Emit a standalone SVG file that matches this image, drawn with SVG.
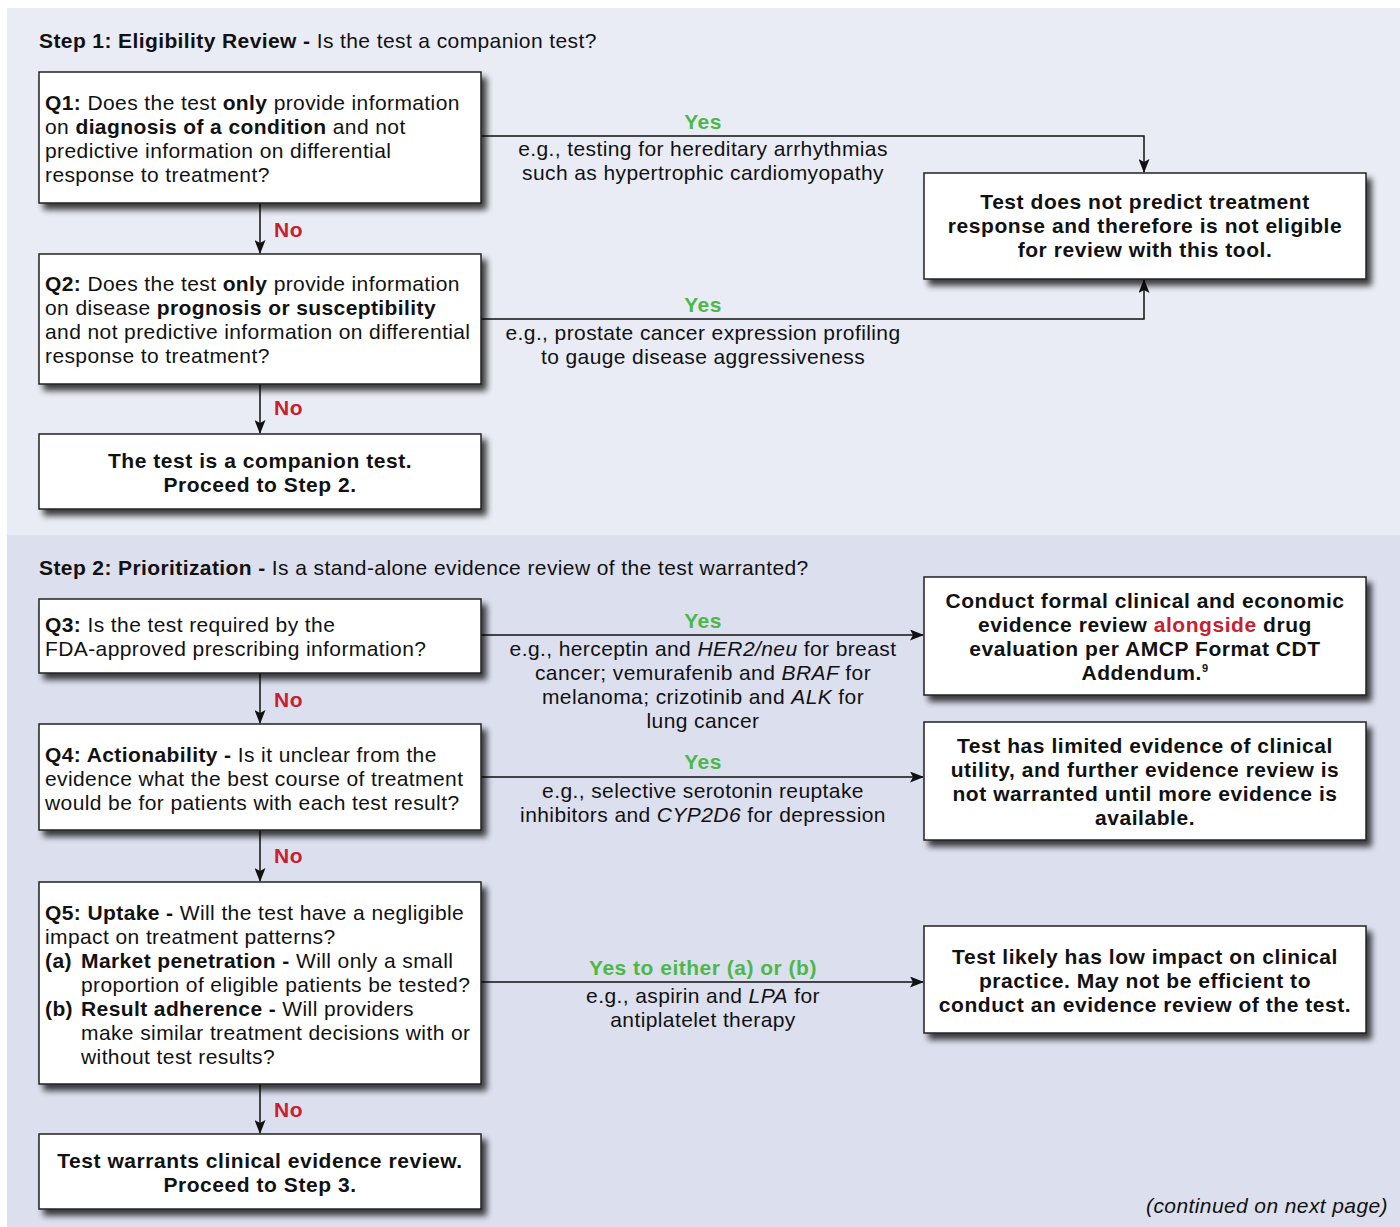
<svg xmlns="http://www.w3.org/2000/svg" width="1400" height="1227" viewBox="0 0 1400 1227">
<defs>
<filter id="sh" x="-5%" y="-10%" width="115%" height="130%">
<feGaussianBlur in="SourceAlpha" stdDeviation="3"/>
<feOffset dx="5" dy="6" result="b"/>
<feComponentTransfer><feFuncA type="linear" slope="0.75"/></feComponentTransfer>
<feMerge><feMergeNode/><feMergeNode in="SourceGraphic"/></feMerge>
</filter>
<marker id="ah" markerWidth="14" markerHeight="11" refX="13" refY="5.5" orient="auto" markerUnits="userSpaceOnUse">
<path d="M0,0 L14,5.5 L0,11 L3,5.5 Z" fill="#111"/>
</marker>
</defs>
<style>
text{font-family:"Liberation Sans",Arial,Helvetica,sans-serif;font-size:21px;letter-spacing:0.4px;fill:#111}
.b{font-weight:bold}
text.b{letter-spacing:0.55px}
.c{text-anchor:middle}
.i{font-style:italic}
.yes{font-weight:bold;fill:#4cb848;text-anchor:middle;letter-spacing:0.5px}
.no{font-weight:bold;fill:#c8202f;letter-spacing:0.5px}
.red{fill:#c8202f}
.box{fill:#fff;stroke:#222;stroke-width:1.5;filter:url(#sh)}
.ar{fill:none;stroke:#111;stroke-width:1.5;marker-end:url(#ah)}
</style>
<rect x="0" y="0" width="1400" height="1227" fill="#fff"/>
<rect x="7" y="8" width="1393" height="527" fill="#e9ecf4"/>
<rect x="7" y="535" width="1393" height="692" fill="#dcdfee"/>

<text x="39" y="48"><tspan class="b">Step 1: Eligibility Review - </tspan>Is the test a companion test?</text>
<text x="39" y="575"><tspan class="b">Step 2: Prioritization - </tspan>Is a stand-alone evidence review of the test warranted?</text>

<g id="connectors">
<path class="ar" d="M481,136 H1144 V172"/>
<path class="ar" d="M481,319 H1144 V280"/>
<path class="ar" d="M260,203 V253"/>
<path class="ar" d="M260,384 V433"/>
<path class="ar" d="M481,635 H923"/>
<path class="ar" d="M481,777 H923"/>
<path class="ar" d="M481,982 H923"/>
<path class="ar" d="M260,673 V723"/>
<path class="ar" d="M260,830 V881"/>
<path class="ar" d="M260,1084 V1133"/>
<text class="yes" x="703" y="129">Yes</text>
<text class="c" x="703" y="156">e.g., testing for hereditary arrhythmias</text>
<text class="c" x="703" y="180">such as hypertrophic cardiomyopathy</text>
<text class="yes" x="703" y="312">Yes</text>
<text class="c" x="703" y="340">e.g., prostate cancer expression profiling</text>
<text class="c" x="703" y="364">to gauge disease aggressiveness</text>
<text class="yes" x="703" y="628">Yes</text>
<text class="c" x="703" y="656">e.g., herceptin and <tspan class="i">HER2/neu</tspan> for breast</text>
<text class="c" x="703" y="680">cancer; vemurafenib and <tspan class="i">BRAF</tspan> for</text>
<text class="c" x="703" y="704">melanoma; crizotinib and <tspan class="i">ALK</tspan> for</text>
<text class="c" x="703" y="728">lung cancer</text>
<text class="yes" x="703" y="769">Yes</text>
<text class="c" x="703" y="798">e.g., selective serotonin reuptake</text>
<text class="c" x="703" y="822">inhibitors and <tspan class="i">CYP2D6</tspan> for depression</text>
<text class="yes" x="703" y="975">Yes to either (a) or (b)</text>
<text class="c" x="703" y="1003">e.g., aspirin and <tspan class="i">LPA</tspan> for</text>
<text class="c" x="703" y="1027">antiplatelet therapy</text>
<text class="no" x="274" y="237">No</text>
<text class="no" x="274" y="415">No</text>
<text class="no" x="274" y="707">No</text>
<text class="no" x="274" y="863">No</text>
<text class="no" x="274" y="1117">No</text>
</g>

<g id="q1">
<rect class="box" x="39" y="72" width="442" height="131"/>
<text x="45" y="110"><tspan class="b">Q1:</tspan> Does the test <tspan class="b">only</tspan> provide information</text>
<text x="45" y="134">on <tspan class="b">diagnosis of a condition</tspan> and not</text>
<text x="45" y="158">predictive information on differential</text>
<text x="45" y="182">response to treatment?</text>
</g>

<g id="q2">
<rect class="box" x="39" y="254" width="442" height="130"/>
<text x="45" y="291"><tspan class="b">Q2:</tspan> Does the test <tspan class="b">only</tspan> provide information</text>
<text x="45" y="315">on disease <tspan class="b">prognosis or susceptibility</tspan></text>
<text x="45" y="339">and not predictive information on differential</text>
<text x="45" y="363">response to treatment?</text>
</g>

<g id="companion">
<rect class="box" x="39" y="434" width="442" height="75"/>
<text class="b c" x="260" y="468">The test is a companion test.</text>
<text class="b c" x="260" y="492">Proceed to Step 2.</text>
</g>

<g id="not-eligible">
<rect class="box" x="924" y="173" width="442" height="106"/>
<text class="b c" x="1145" y="209">Test does not predict treatment</text>
<text class="b c" x="1145" y="233">response and therefore is not eligible</text>
<text class="b c" x="1145" y="257">for review with this tool.</text>
</g>

<g id="q3">
<rect class="box" x="39" y="599" width="442" height="74"/>
<text x="45" y="632"><tspan class="b">Q3:</tspan> Is the test required by the</text>
<text x="45" y="656">FDA-approved prescribing information?</text>
</g>

<g id="conduct">
<rect class="box" x="924" y="577" width="442" height="118"/>
<text class="b c" x="1145" y="608">Conduct formal clinical and economic</text>
<text class="b c" x="1145" y="632">evidence review <tspan class="red">alongside</tspan> drug</text>
<text class="b c" x="1145" y="656">evaluation per AMCP Format CDT</text>
<text class="b c" x="1145" y="680">Addendum.<tspan font-size="11" dy="-8">9</tspan></text>
</g>

<g id="q4">
<rect class="box" x="39" y="724" width="442" height="106"/>
<text x="45" y="762"><tspan class="b">Q4: Actionability - </tspan>Is it unclear from the</text>
<text x="45" y="786">evidence what the best course of treatment</text>
<text x="45" y="810">would be for patients with each test result?</text>
</g>

<g id="limited">
<rect class="box" x="924" y="722" width="442" height="118"/>
<text class="b c" x="1145" y="753">Test has limited evidence of clinical</text>
<text class="b c" x="1145" y="777">utility, and further evidence review is</text>
<text class="b c" x="1145" y="801">not warranted until more evidence is</text>
<text class="b c" x="1145" y="825">available.</text>
</g>

<g id="q5">
<rect class="box" x="39" y="882" width="442" height="202"/>
<text x="45" y="920"><tspan class="b">Q5: Uptake - </tspan>Will the test have a negligible</text>
<text x="45" y="944">impact on treatment patterns?</text>
<text x="45" y="968"><tspan class="b">(a)</tspan></text>
<text x="81" y="968"><tspan class="b">Market penetration - </tspan>Will only a small</text>
<text x="81" y="992">proportion of eligible patients be tested?</text>
<text x="45" y="1016"><tspan class="b">(b)</tspan></text>
<text x="81" y="1016"><tspan class="b">Result adherence - </tspan>Will providers</text>
<text x="81" y="1040">make similar treatment decisions with or</text>
<text x="81" y="1064">without test results?</text>
</g>

<g id="low-impact">
<rect class="box" x="924" y="926" width="442" height="107"/>
<text class="b c" x="1145" y="964">Test likely has low impact on clinical</text>
<text class="b c" x="1145" y="988">practice. May not be efficient to</text>
<text class="b c" x="1145" y="1012">conduct an evidence review of the test.</text>
</g>

<g id="warrants">
<rect class="box" x="39" y="1134" width="442" height="75"/>
<text class="b c" x="260" y="1168">Test warrants clinical evidence review.</text>
<text class="b c" x="260" y="1192">Proceed to Step 3.</text>
</g>

<text class="i" x="1388" y="1213" text-anchor="end">(continued on next page)</text>
</svg>
